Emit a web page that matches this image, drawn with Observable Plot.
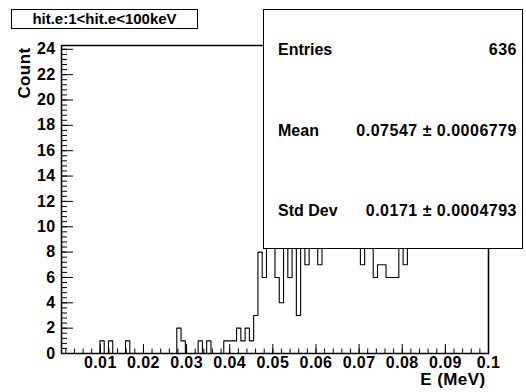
<!DOCTYPE html>
<html>
<head>
<meta charset="utf-8">
<script src="https://cdn.jsdelivr.net/npm/d3@7"></script>
<script src="https://cdn.jsdelivr.net/npm/@observablehq/plot@0.6"></script>
<style>
  html, body { margin: 0; padding: 0; background: #fff; }
  #chart { position: relative; width: 526px; height: 392px; overflow: hidden;
           font-family: "Liberation Sans", Arial, Helvetica, sans-serif; font-weight: bold; color: #000; }
  #chart svg { position: absolute; left: 0; top: 0; }
  #chart svg text { letter-spacing: 0.4px; }
  .title-box { position: absolute; left: 11px; top: 9px; width: 185px; height: 18px;
               border: 1px solid #000; background: #fff; font-size: 15px; line-height: 18px; text-align: center; }
  .stats-box { position: absolute; left: 263px; top: 9px; width: 258px; height: 238px;
               border: 1.5px solid #000; background: #fff; }
  .stat { position: absolute; font-size: 16px; line-height: 16px; white-space: pre; }
  .stat.name { left: 278px; }
  .stat.value { right: 9px; text-align: right; letter-spacing: 0.5px; }
</style>
</head>
<body>
<div id="chart"></div>
<script>
// Histogram of hit energies (MeV), 100 equal bins between xmin and xmax
const xmin = 0.001;
const xmax = 0.1;
const counts = [
  0, 0, 0, 0, 0, 0, 0, 0, 0, 1,
  0, 1, 0, 0, 0, 1, 0, 0, 0, 0,
  0, 0, 0, 0, 0, 0, 0, 2, 1, 0,
  0, 0, 1, 0, 1, 0, 0, 0, 1, 1,
  1, 2, 1, 2, 1, 3, 8, 6, 10, 9,
  6, 4, 11, 6, 9, 3, 10, 7, 12, 9,
  7, 11, 13, 10, 12, 14, 11, 13, 12, 10,
  7, 13, 11, 6, 7, 7, 6, 6, 6, 12,
  7, 14, 12, 15, 13, 15, 13, 16, 16, 15,
  17, 18, 16, 17, 18, 23, 17, 18, 16, 16
];

// Axis ticks and labels
const xTickValues = [0.01, 0.02, 0.03, 0.04, 0.05, 0.06, 0.07, 0.08, 0.09, 0.1];
const xTickLabels = ["0.01", "0.02", "0.03", "0.04", "0.05", "0.06", "0.07", "0.08", "0.09", "0.1"];
const yTickValues = [0, 2, 4, 6, 8, 10, 12, 14, 16, 18, 20, 22, 24];
const yTickLabels = ["0", "2", "4", "6", "8", "10", "12", "14", "16", "18", "20", "22", "24"];
const yTop = 24.3;

// Text of the title and statistics boxes
const titleText = "hit.e:1<hit.e<100keV";
const statNames = ["Entries", "Mean", "Std Dev"];
const statValues = ["636", "0.07547 \u00b1 0.0006779", "0.0171 \u00b1 0.0004793"];

const W = 526, H = 392;
const mL = 61, mR = 38, mT = 45, mB = 39;
const innerW = W - mL - mR, innerH = H - mT - mB;

const binW = (xmax - xmin) / counts.length;
// step outline: one point per bin lower edge, closed down to zero at the upper edge
const steps = counts.map((c, i) => ({x: xmin + i * binW, y: c}));
steps.push({x: xmax, y: counts[counts.length - 1]}, {x: xmax, y: 0});

const xMinor = d3.range(1, 51).map(k => k * 0.002).filter(v => v <= xmax + 1e-9);
const yMinor = d3.range(0, 61).map(k => k * 0.4).filter(v => v <= yTop);
const xTicks = xTickValues.map((v, i) => ({v, label: xTickLabels[i]}));
const yTicks = yTickValues.map((v, i) => ({v, label: yTickLabels[i]}));

const plot = Plot.plot({
  width: W, height: H,
  marginLeft: mL, marginRight: mR, marginTop: mT, marginBottom: mB,
  x: {domain: [xmin, xmax], axis: null},
  y: {domain: [0, yTop], axis: null},
  style: {fontFamily: "'Liberation Sans', Arial, Helvetica, sans-serif", fontWeight: "bold", background: "#fff", color: "#000", overflow: "visible"},
  marks: [
    Plot.line(steps, {x: "x", y: "y", curve: "step-after", stroke: "#000", strokeWidth: 1.1}),
    Plot.ruleX(xMinor, {x: d => d, stroke: "#000", strokeWidth: 1, insetTop: innerH - 4.5}),
    Plot.ruleX(xTickValues, {x: d => d, stroke: "#000", strokeWidth: 1, insetTop: innerH - 9}),
    Plot.ruleY(yMinor, {y: d => d, stroke: "#000", strokeWidth: 1, insetRight: innerW - 6}),
    Plot.ruleY(yTickValues, {y: d => d, stroke: "#000", strokeWidth: 1, insetRight: innerW - 12}),
    Plot.frame({stroke: "#000", strokeWidth: 1.5}),
    Plot.text(xTicks, {x: "v", text: "label", frameAnchor: "bottom", lineAnchor: "top", dy: 3, fontSize: 16, fill: "#000"}),
    Plot.text(yTicks, {y: "v", text: "label", frameAnchor: "left", textAnchor: "end", dx: -6, fontSize: 16, fill: "#000"}),
    Plot.text(["Count"], {frameAnchor: "top-left", rotate: -90, textAnchor: "end", dx: -43.5, dy: 2, fontSize: 17, fill: "#000"}),
    Plot.text(["E (MeV)"], {frameAnchor: "bottom-right", textAnchor: "end", dx: -3, dy: 31.5, fontSize: 17, fill: "#000"})
  ]
});

const chart = document.getElementById("chart");
chart.appendChild(plot);

const title = document.createElement("div");
title.className = "title-box";
title.textContent = titleText;
chart.appendChild(title);

const box = document.createElement("div");
box.className = "stats-box";
chart.appendChild(box);

// rows of the statistics box, placed by their text baselines
const rowBaselines = [55, 136, 216.5];
statNames.forEach((name, i) => {
  const top = (rowBaselines[i] - 13.5) + "px";
  const n = document.createElement("div");
  n.className = "stat name";
  n.style.top = top;
  n.textContent = name;
  chart.appendChild(n);
  const v = document.createElement("div");
  v.className = "stat value";
  v.style.top = top;
  v.textContent = statValues[i];
  chart.appendChild(v);
});
</script>
</body>
</html>
